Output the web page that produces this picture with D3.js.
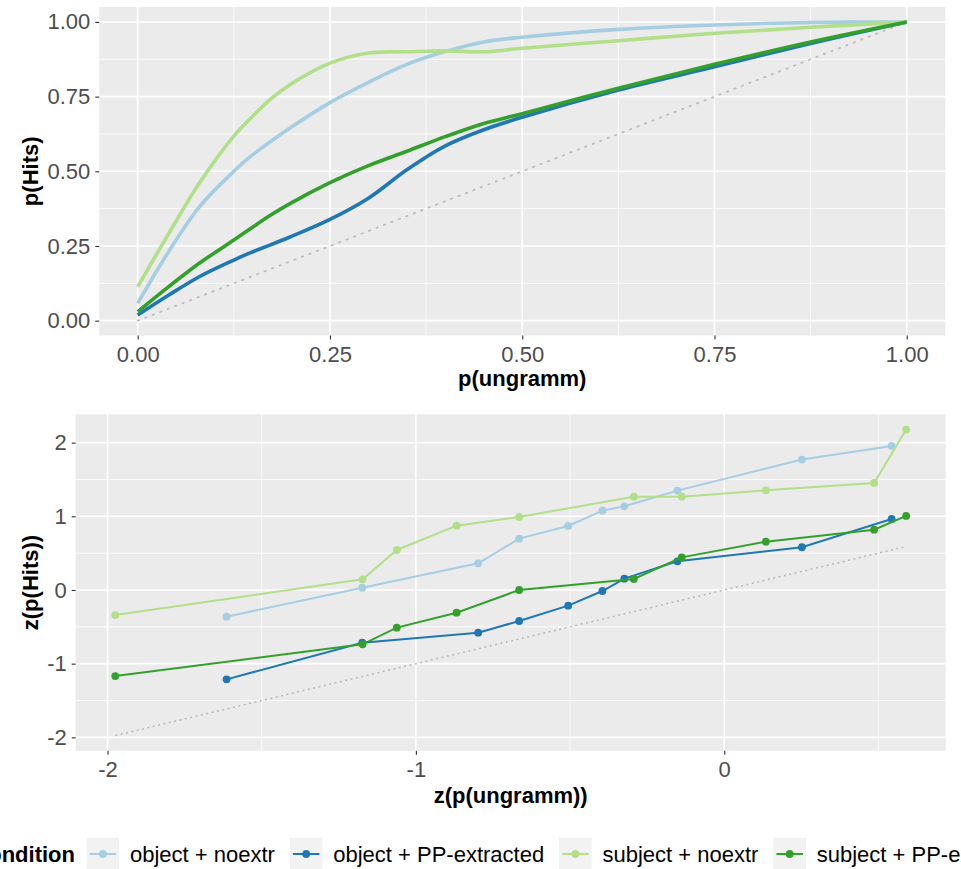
<!DOCTYPE html>
<html><head><meta charset="utf-8">
<script src="https://cdn.jsdelivr.net/npm/d3@7"></script>
<style>body{margin:0;background:#fff} svg{display:block} text{font-family:"Liberation Sans",Arial,sans-serif}</style>
</head><body><svg id="c" width="961" height="869"></svg>
<script>
// ---------- DATA ----------
const conditions = ["object + noextr", "object + PP-extracted", "subject + noextr", "subject + PP-extracted"];
const colors = ["#A6CEE3", "#1F78B4", "#B2DF8A", "#33A02C"];

// Top panel: smoothed ROC curves, p(ungramm) vs p(Hits)
const rocX =            [0,     0.04,  0.08,  0.125, 0.146, 0.172, 0.198, 0.25,  0.3,   0.35,  0.4,   0.45,  0.5,   0.625, 0.75,  0.875, 1.0];
const rocObjNoextr =    [0.058, 0.23,  0.38,  0.500, 0.548, 0.598, 0.645, 0.730, 0.798, 0.858, 0.901, 0.933, 0.949, 0.975, 0.990, 0.998, 1.0];
const rocObjPP =        [0.019, 0.085, 0.147, 0.203, 0.227, 0.253, 0.280, 0.339, 0.410, 0.505, 0.585, 0.639, 0.681, 0.772, 0.850, 0.928, 1.0];
const rocSubjNoextr =   [0.114, 0.29,  0.46,  0.618, 0.675, 0.740, 0.790, 0.862, 0.896, 0.900, 0.903, 0.900, 0.912, 0.937, 0.962, 0.982, 1.0];
const rocSubjPP =       [0.030, 0.113, 0.192, 0.270, 0.307, 0.352, 0.392, 0.462, 0.519, 0.567, 0.616, 0.660, 0.693, 0.778, 0.858, 0.933, 1.0];

// Bottom panel: z-transformed points
const zUngrammObj =     [-1.614, -1.174, -0.798, -0.665, -0.506, -0.395, -0.324, -0.152, 0.252, 0.543];
const zHitsObjNoextr =  [-0.362,  0.031,  0.362,  0.697,  0.869,  1.077,  1.136,  1.349, 1.770, 1.955];
const zHitsObjPP =      [-1.213, -0.715, -0.579, -0.421, -0.213, -0.014,  0.154,  0.389, 0.580, 0.964];
const zUngrammSubj =    [-1.975, -1.173, -1.062, -0.868, -0.665, -0.293, -0.138,  0.135, 0.486, 0.590];
const zHitsSubjNoextr = [-0.340,  0.145,  0.543,  0.873,  0.991,  1.267,  1.267,  1.353, 1.453, 2.177];
const zHitsSubjPP =     [-1.168, -0.738, -0.511, -0.308,  0.000,  0.149,  0.443,  0.656, 0.819, 1.005];

const topMajor = [0, 0.25, 0.5, 0.75, 1];
const topMinor = [0.125, 0.375, 0.625, 0.875];
const botXMajor = [-2, -1, 0];
const botXMinor = [-1.5, -0.5, 0.5];
const botYMajor = [-2, -1, 0, 1, 2];
const botYMinor = [-1.5, -0.5, 0.5, 1.5];

// ---------- BUILD ----------
const rocSeries = [rocObjNoextr, rocObjPP, rocSubjNoextr, rocSubjPP].map((ys, i) =>
  ({ name: conditions[i], color: colors[i], pts: rocX.map((x, j) => [x, ys[j]]) }));
const zSeries = [
  [zUngrammObj, zHitsObjNoextr], [zUngrammObj, zHitsObjPP],
  [zUngrammSubj, zHitsSubjNoextr], [zUngrammSubj, zHitsSubjPP]
].map(([xs, ys], i) => ({ name: conditions[i], color: colors[i], pts: xs.map((x, j) => [x, ys[j]]).sort((a, b) => a[0] - b[0]) }));

const svg = d3.select("#c");
const FONT = 22;

function expand(ext) { const d = (ext[1] - ext[0]) * 0.05; return [ext[0] - d, ext[1] + d]; }

function panel(x, y, xMajor, xMinor, yMajor, yMinor, fmt, xTitle, yTitle, xTitleBase) {
  const [x0, x1] = x.range(), [y0, y1] = y.range();
  svg.append("rect").attr("x", x0).attr("y", y1).attr("width", x1 - x0).attr("height", y0 - y1).attr("fill", "#EBEBEB");
  const g = svg.append("g");
  xMinor.forEach(v => g.append("line").attr("x1", x(v)).attr("x2", x(v)).attr("y1", y0).attr("y2", y1).attr("stroke", "#fff").attr("stroke-width", 0.8));
  yMinor.forEach(v => g.append("line").attr("y1", y(v)).attr("y2", y(v)).attr("x1", x0).attr("x2", x1).attr("stroke", "#fff").attr("stroke-width", 0.8));
  xMajor.forEach(v => g.append("line").attr("x1", x(v)).attr("x2", x(v)).attr("y1", y0).attr("y2", y1).attr("stroke", "#fff").attr("stroke-width", 1.6));
  yMajor.forEach(v => g.append("line").attr("y1", y(v)).attr("y2", y(v)).attr("x1", x0).attr("x2", x1).attr("stroke", "#fff").attr("stroke-width", 1.6));

  const ax = svg.append("g").attr("transform", `translate(0,${y0})`)
    .call(d3.axisBottom(x).tickValues(xMajor).tickSize(4).tickPadding(6.5).tickFormat(fmt));
  const ay = svg.append("g").attr("transform", `translate(${x0},0)`)
    .call(d3.axisLeft(y).tickValues(yMajor).tickSize(4).tickPadding(5).tickFormat(fmt));
  [ax, ay].forEach(a => {
    a.select(".domain").remove();
    a.selectAll(".tick line").attr("stroke", "#333").attr("stroke-width", 1.1);
    a.selectAll(".tick text").attr("fill", "#4D4D4D").style("font-size", FONT + "px").style("font-family", '"Liberation Sans",Arial,sans-serif');
  });
  svg.append("text").attr("x", (x0 + x1) / 2).attr("y", xTitleBase).attr("text-anchor", "middle")
    .style("font-size", FONT + "px").style("font-weight", "bold").text(xTitle);
  svg.append("text").attr("transform", `translate(38,${(y0 + y1) / 2}) rotate(-90)`).attr("text-anchor", "middle")
    .style("font-size", FONT + "px").style("font-weight", "bold").text(yTitle);
}

// ---- Top panel ----
const xT = d3.scaleLinear().domain(expand([0, 1])).range([99.25, 945.2]);
const yT = d3.scaleLinear().domain(expand([0, 1])).range([335.6, 7]);
panel(xT, yT, topMajor, topMinor, topMajor, topMinor, d3.format(".2f"), "p(ungramm)", "p(Hits)", 386);

svg.append("line").attr("x1", xT(0)).attr("y1", yT(0)).attr("x2", xT(1)).attr("y2", yT(1))
  .attr("stroke", "#BDBDBD").attr("stroke-width", 1.8).attr("stroke-dasharray", "1.5,6.5").attr("stroke-linecap", "round");
const lineT = d3.line().x(d => xT(d[0])).y(d => yT(d[1])).curve(d3.curveCatmullRom.alpha(0.5));
rocSeries.forEach(s => svg.append("path").attr("d", lineT(s.pts)).attr("fill", "none")
  .attr("stroke", s.color).attr("stroke-width", 3.6).attr("stroke-linejoin", "round"));

// ---- Bottom panel ----
const allZx = zSeries.flatMap(s => s.pts.map(p => p[0]));
const allZy = zSeries.flatMap(s => s.pts.map(p => p[1]));
const diagExt = d3.extent(allZx);
const xB = d3.scaleLinear().domain(expand(diagExt)).range([75.7, 945.7]);
const yB = d3.scaleLinear().domain(expand(d3.extent(allZy.concat(diagExt)))).range([750.8, 414.3]);
panel(xB, yB, botXMajor, botXMinor, botYMajor, botYMinor, d => String(d), "z(p(ungramm))", "z(p(Hits))", 803);

svg.append("line").attr("x1", xB(diagExt[0])).attr("y1", yB(diagExt[0])).attr("x2", xB(diagExt[1])).attr("y2", yB(diagExt[1]))
  .attr("stroke", "#B8B8B8").attr("stroke-width", 1.5).attr("stroke-dasharray", "2,3.5");
const lineB = d3.line().x(d => xB(d[0])).y(d => yB(d[1]));
zSeries.forEach(s => {
  const g = svg.append("g");
  g.append("path").attr("d", lineB(s.pts)).attr("fill", "none").attr("stroke", s.color).attr("stroke-width", 2);
  g.selectAll("circle").data(s.pts).join("circle").attr("cx", d => xB(d[0])).attr("cy", d => yB(d[1]))
    .attr("r", 3.9).attr("fill", s.color);
});

// ---- Legend ----
const legY = 854;
const lg = svg.append("g");
lg.append("text").attr("x", 75).attr("y", legY).attr("text-anchor", "end").attr("dominant-baseline", "central")
  .style("font-size", FONT + "px").style("font-weight", "bold").text("Condition");
let cursor = 86.7;
conditions.forEach((c, i) => {
  const kw = 32.5;
  lg.append("rect").attr("x", cursor).attr("y", legY - kw / 2).attr("width", kw).attr("height", kw).attr("fill", "#F2F2F2");
  lg.append("line").attr("x1", cursor + 3).attr("x2", cursor + kw - 3).attr("y1", legY).attr("y2", legY)
    .attr("stroke", colors[i]).attr("stroke-width", 2);
  lg.append("circle").attr("cx", cursor + kw / 2).attr("cy", legY).attr("r", 3.9).attr("fill", colors[i]);
  const t = lg.append("text").attr("x", cursor + kw + 10.8).attr("y", legY).attr("dominant-baseline", "central")
    .style("font-size", FONT + "px").attr("fill", "#000").text(c);
  cursor = cursor + kw + 10.8 + t.node().getComputedTextLength() + 15;
});
</script></body></html>
